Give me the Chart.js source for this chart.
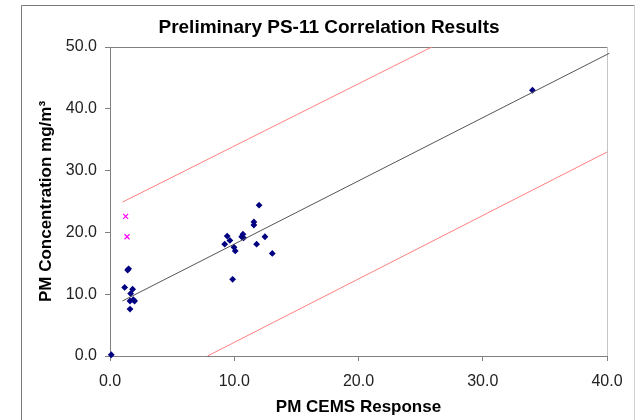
<!DOCTYPE html>
<html>
<head>
<meta charset="utf-8">
<script src="https://cdn.jsdelivr.net/npm/chart.js@4"></script>
<style>
  html, body { margin: 0; padding: 0; background: #fff; }
  canvas { display: block; }
</style>
</head>
<body>
<canvas id="chart" width="636" height="420"></canvas>
<script>
// measured points (PM CEMS response vs reference PM concentration)
const cemsResponse = [0.1, 1.18, 1.42, 1.50, 1.66, 1.82, 1.61, 1.87, 1.98, 1.61,
    9.23, 9.43, 9.65, 9.87, 9.98, 10.08, 10.70, 10.60, 10.75, 11.58, 11.58, 11.80, 12.00, 12.47, 13.06,
    34.0];
const pmConcentration = [0.2, 11.1, 13.9, 14.1, 10.1, 10.8, 8.9, 9.1, 8.9, 7.6,
    18.1, 19.4, 18.7, 12.4, 17.6, 17.0, 19.7, 19.3, 19.1, 21.7, 21.2, 18.1, 24.4, 19.3, 16.6,
    43.0];

// excluded runs (magenta crosses)
const excludedResponse = [1.26, 1.37];
const excludedConcentration = [22.6, 19.3];

// correlation line and upper / lower limits
const fitX = [1.0, 40.2];
const fitY = [8.9, 49.0];
const upperX = [1.0, 25.9];
const upperY = [24.9, 50.0];
const lowerX = [7.85, 40.0];
const lowerY = [0.0, 33.0];

const xTicks = [0, 10, 20, 30, 40];
const yTicks = [0, 10, 20, 30, 40, 50];

const FONT = '"Liberation Sans", Arial, sans-serif';

function toPoints(xs, ys) {
    return xs.map((x, i) => ({ x: x, y: ys[i] }));
}

// outer frame, plot-area top/right edges and the chart title
const framePlugin = {
    id: 'frame',
    beforeDraw(chart) {
        const ctx = chart.ctx;
        ctx.save();
        ctx.fillStyle = '#fff';
        ctx.fillRect(0, 0, chart.width, chart.height);
        ctx.lineWidth = 1;
        ctx.strokeStyle = '#7a7a7a';
        ctx.beginPath();
        ctx.moveTo(21.5, chart.height);
        ctx.lineTo(21.5, 5.5);
        ctx.lineTo(634.5, 5.5);
        ctx.stroke();
        ctx.strokeStyle = '#d0d0d0';
        ctx.beginPath();
        ctx.moveTo(634.5, 5.5);
        ctx.lineTo(634.5, chart.height);
        ctx.stroke();
        ctx.restore();
    },
    beforeDatasetsDraw(chart) {
        const { ctx, chartArea: a } = chart;
        ctx.save();
        ctx.lineWidth = 1;
        ctx.strokeStyle = '#808080';
        ctx.beginPath();
        ctx.moveTo(Math.round(a.left) + 0.5, Math.round(a.top) + 0.5);
        ctx.lineTo(Math.round(a.right) + 0.5, Math.round(a.top) + 0.5);
        ctx.stroke();
        ctx.strokeStyle = '#c4c4c4';
        ctx.beginPath();
        ctx.moveTo(Math.round(a.right) + 0.5, Math.round(a.top) + 0.5);
        ctx.lineTo(Math.round(a.right) + 0.5, Math.round(a.bottom));
        ctx.stroke();
        ctx.restore();
    },
    afterDraw(chart) {
        const ctx = chart.ctx;
        ctx.save();
        ctx.fillStyle = '#000';
        ctx.font = 'bold 19px ' + FONT;
        ctx.textAlign = 'center';
        ctx.textBaseline = 'middle';
        ctx.fillText('Preliminary PS-11 Correlation Results', 329, 28);
        ctx.restore();
    }
};

new Chart(document.getElementById('chart'), {
    type: 'scatter',
    data: {
        datasets: [
            {
                label: 'Upper limit',
                type: 'line',
                data: toPoints(upperX, upperY),
                borderColor: '#ff8080',
                borderWidth: 1,
                pointRadius: 0,
                fill: false
            },
            {
                label: 'Lower limit',
                type: 'line',
                data: toPoints(lowerX, lowerY),
                borderColor: '#ff8080',
                borderWidth: 1,
                pointRadius: 0,
                fill: false
            },
            {
                label: 'Correlation',
                type: 'line',
                data: toPoints(fitX, fitY),
                borderColor: '#555555',
                borderWidth: 1,
                pointRadius: 0,
                fill: false,
                clip: false
            },
            {
                label: 'Data',
                data: toPoints(cemsResponse, pmConcentration),
                pointStyle: 'rectRot',
                pointRadius: 3.4,
                backgroundColor: '#000080',
                borderColor: '#000080',
                borderWidth: 0,
                clip: false
            },
            {
                label: 'Excluded',
                data: toPoints(excludedResponse, excludedConcentration),
                pointStyle: 'crossRot',
                pointRadius: 3.5,
                borderColor: '#ff00ff',
                borderWidth: 1.2
            }
        ]
    },
    options: {
        responsive: false,
        animation: false,
        layout: { padding: { left: 0, right: 29, top: 47, bottom: 0 } },
        plugins: {
            legend: { display: false },
            title: { display: false },
            tooltip: { enabled: false }
        },
        scales: {
            x: {
                type: 'linear',
                min: xTicks[0],
                max: xTicks[xTicks.length - 1],
                afterBuildTicks: scale => { scale.ticks = xTicks.map(v => ({ value: v })); },
                afterFit: scale => {
                    scale.height = 64;
                    scale.paddingLeft = 0;
                    scale.paddingRight = 0;
                },
                border: { color: '#808080', width: 1 },
                grid: { drawOnChartArea: false, drawTicks: true, tickLength: 5, color: '#808080' },
                ticks: {
                    padding: 11,
                    color: '#222',
                    font: { family: FONT, size: 16 },
                    callback: v => v.toFixed(1)
                },
                title: {
                    display: true,
                    text: 'PM CEMS Response',
                    color: '#000',
                    font: { family: FONT, size: 17, weight: 'bold' },
                    padding: { top: 0, bottom: 2 }
                }
            },
            y: {
                type: 'linear',
                min: yTicks[0],
                max: yTicks[yTicks.length - 1],
                afterBuildTicks: scale => { scale.ticks = yTicks.map(v => ({ value: v })); },
                afterFit: scale => {
                    scale.width = 110;
                    scale.paddingTop = 0;
                    scale.paddingBottom = 0;
                },
                border: { color: '#808080', width: 1 },
                grid: { drawOnChartArea: false, drawTicks: true, tickLength: 5, color: '#808080' },
                ticks: {
                    padding: 8,
                    color: '#222',
                    font: { family: FONT, size: 16 },
                    callback: v => v.toFixed(1)
                },
                title: {
                    display: true,
                    text: 'PM Concentration mg/m³',
                    color: '#000',
                    font: { family: FONT, size: 17, weight: 'bold' },
                    padding: { top: 36, bottom: 0 }
                }
            }
        }
    },
    plugins: [framePlugin]
});
</script>
</body>
</html>
